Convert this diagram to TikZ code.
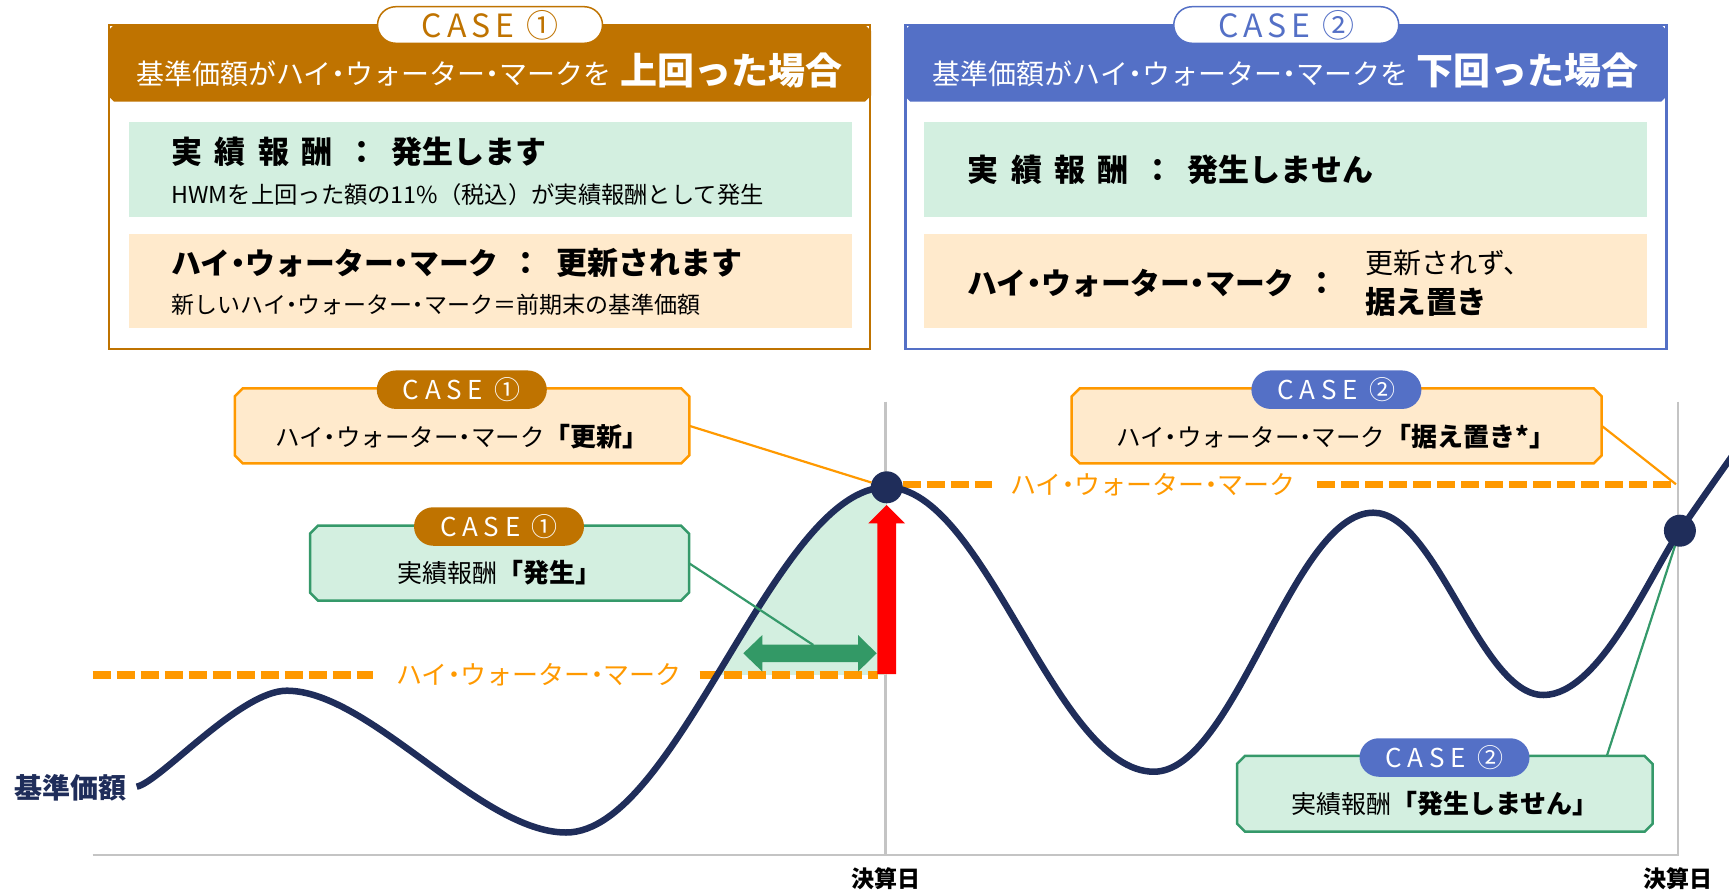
\documentclass[tikz,border=0pt]{standalone}
\usepackage{fontspec}
\setmainfont{Noto Sans CJK JP}
\newfontfamily\casefontA{Noto Sans CJK JP}[LetterSpace=15]
\newfontfamily\casefontB{Noto Sans CJK JP}[LetterSpace=22]
\usetikzlibrary{shapes.misc}
\definecolor{hbrown}{HTML}{BF7300}
\definecolor{hblue}{HTML}{5470C6}
\definecolor{navy}{HTML}{1F2D5A}
\definecolor{orng}{HTML}{FF9900}
\definecolor{ofill}{HTML}{FFEACC}
\definecolor{gfill}{HTML}{D3EFE0}
\definecolor{gline}{HTML}{35996A}
\definecolor{garrow}{HTML}{339966}
\definecolor{gridc}{HTML}{C4C4C4}
\newcommand\fsz[1]{\fontsize{#1}{#1}\selectfont}
% proportional (narrow) katakana middle dot
\newcommand\kd{{\addfontfeature{RawFeature=+palt}・}}
% chamfered outline around a named node: #1 node, #2 path options, #3 chamfer size
\newcommand\chamferbox[3]{%
  \path[#2] ([xshift=#3]#1.north west) -- ([xshift=-#3]#1.north east) -- ([yshift=-#3]#1.north east)
    -- ([yshift=#3]#1.south east) -- ([xshift=-#3]#1.south east) -- ([xshift=#3]#1.south west)
    -- ([yshift=#3]#1.south west) -- ([yshift=-#3]#1.north west) -- cycle;}
\begin{document}
\begin{tikzpicture}[x=1pt,y=-1pt,
  every node/.style={inner sep=0pt,outer sep=0pt},
  bigframe/.style={draw=#1,line width=2.5pt,fill=white,rectangle,minimum width=761pt,minimum height=324pt},
  hdrband/.style={rectangle,minimum width=763pt,minimum height=76.7pt},
  hdrpill/.style={rounded rectangle,draw=#1,line width=1.5pt,fill=white,text=#1,minimum width=225pt,minimum height=36.6pt,font={\casefontA\fsz{32pt}}},
  inbox/.style={rectangle,fill=#1,minimum width=723pt,minimum height=94.5pt},
  callbox/.style={rectangle},
  callpill/.style={rounded rectangle,fill=#1,text=white,minimum width=170pt,minimum height=38.5pt,font={\casefontB\fsz{26pt}}},
  hwmline/.style={draw=orng,line width=7.5pt,dash pattern=on 18pt off 6pt},
  hwmtext/.style={text=orng,font={\fsz{26pt}}},
  curveline/.style={draw=navy,line width=6.5pt},
  gridline/.style={draw=gridc,line width=2.5pt},
  dot/.style={circle,fill=navy,minimum size=32pt},
  olink/.style={draw=orng,line width=2.2pt},
  glink/.style={draw=gline,line width=2.2pt},
  obox/.style={draw=orng,fill=ofill,line width=2.5pt},
  gbox/.style={draw=gline,fill=gfill,line width=2.5pt}
]
\useasboundingbox (0,0) rectangle (1729,891);

% ===== top left panel =====
\node[bigframe=hbrown] (f1) at (489.5,187) {};
\node[hdrband] (hb1) at (489.5,63.3) {};
\chamferbox{hb1}{fill=hbrown}{6pt}
\node[hdrpill=hbrown] (hp1) at (490,25) {CASE ①};
\node[text=white] (t1) at (489.5,71) {\fsz{28pt}基準価額がハイ\kd ウォーター\kd マークを\hspace{9pt}\bfseries\fsz{37pt}上回った場合};
\node[inbox=gfill] (ig1) at (490.75,169.3) {};
\node[inbox=ofill] (io1) at (490.75,281) {};
\node[anchor=west] (g1m) at (171.5,151.7) {\bfseries\fsz{31pt}実\hspace{12.5pt}績\hspace{12.5pt}報\hspace{12.5pt}酬\hspace{13pt}：\hspace{15pt}発生します};
\node[anchor=west] (g1s) at (171.5,195) {\fsz{23.3pt}HWMを上回った額の11\%（税込）が実績報酬として発生};
\node[anchor=west] (o1m) at (171.5,263.3) {\bfseries\fsz{29.8pt}ハイ\kd ウォーター\kd マーク\hspace{12pt}\fsz{31pt}：\hspace{15pt}更新されます};
\node[anchor=west] (o1s) at (171.5,305) {\fsz{23pt}新しいハイ\kd ウォーター\kd マーク＝前期末の基準価額};

% ===== top right panel =====
\node[bigframe=hblue] (f2) at (1285.75,187) {};
\node[hdrband] (hb2) at (1285.75,63.3) {};
\chamferbox{hb2}{fill=hblue}{6pt}
\node[hdrpill=hblue] (hp2) at (1286.25,25) {CASE ②};
\node[text=white] (t2) at (1285.75,71) {\fsz{28pt}基準価額がハイ\kd ウォーター\kd マークを\hspace{9pt}\bfseries\fsz{37pt}下回った場合};
\node[inbox=gfill] (ig2) at (1285.25,169.3) {};
\node[inbox=ofill] (io2) at (1285.25,281) {};
\node[anchor=west] (g2m) at (967.5,170) {\bfseries\fsz{31pt}実\hspace{12.5pt}績\hspace{12.5pt}報\hspace{12.5pt}酬\hspace{13pt}：\hspace{15pt}発生しません};
\node[anchor=west] (o2m) at (967.5,283.3) {\bfseries\fsz{29.8pt}ハイ\kd ウォーター\kd マーク\hspace{12pt}\fsz{31pt}：};
\node[anchor=west] (o2a) at (1365,263.3) {\fsz{28pt}更新されず、};
\node[anchor=west] (o2b) at (1365,301.7) {\bfseries\fsz{30.6pt}据え置き};

% ===== chart axes =====
\draw[gridline] (885.7,401.7) -- (885.7,855);
\draw[gridline] (1678,401.7) -- (1678,855);
\coordinate (ax0) at (92.7,855);
\coordinate (ax1) at (1679,855);
\draw[gridline] (ax0) -- (ax1);
\node (k1) at (885.7,879) {\bfseries\fsz{23pt}決算日};
\node (k2) at (1678,879) {\bfseries\fsz{23pt}決算日};
\node[text=navy] (kj) at (70,787.7) {\bfseries\fsz{28pt}基準価額};

% ===== green area (excess over HWM) =====
\begin{scope}
  \clip (600,674.5) rectangle (886.7,470);
  \fill[gfill] (566,832.5) .. controls (678,832.5) and (774.5,487.3) .. (886.7,487.3) -- (886.7,840) -- cycle;
\end{scope}

% ===== HWM lines =====
\node[hwmtext] (h1) at (538.9,675) {ハイ\kd ウォーター\kd マーク};
\coordinate (h1a) at (92.7,675);
\coordinate (h1b) at (878.3,675);
\draw[hwmline] (h1a) -- ([xshift=-23pt]h1.west);
\draw[hwmline] ([xshift=18pt]h1.east) -- (h1b);
\node[hwmtext] (h2) at (1153.2,484.3) {ハイ\kd ウォーター\kd マーク};
\coordinate (h2a) at (902.7,484.3);
\coordinate (h2b) at (1676,484.3);
\draw[hwmline] (h2a) -- ([xshift=-18.5pt]h2.west);
\draw[hwmline] ([xshift=21.5pt]h2.east) -- (h2b);

% ===== price curve =====
\draw[curveline] (136.7,786.7) .. controls (160,782) and (240,690.7) .. (286.7,690.7)
  .. controls (370,690.7) and (480,832.5) .. (566,832.5)
  .. controls (678,832.5) and (774.5,487.3) .. (886.7,487.3)
  .. controls (985.5,487.3) and (1055,771.7) .. (1153.9,771.7)
  .. controls (1235,771.7) and (1292.3,512.7) .. (1373.3,512.7)
  .. controls (1436,512.7) and (1480,695) .. (1543.3,695)
  .. controls (1600,695) and (1650,574) .. (1679.9,530.7)
  .. controls (1700,501.7) and (1715,480) .. (1740,445);

% ===== arrows =====
\fill[red] (877.3,674) -- (877.3,523.3) -- (868.3,523.3) -- (886.7,505) -- (905,523.3) -- (896,523.3) -- (896,674) -- cycle;
\fill[garrow] (743.3,653.3) -- (762.3,635) -- (762.3,644.5) -- (858,644.5) -- (858,635) -- (876.7,653.3)
  -- (858,671.6) -- (858,662.1) -- (762.3,662.1) -- (762.3,671.6) -- cycle;
\coordinate (ga) at (813.3,645);

% ===== callouts =====
\node[callbox,minimum width=454.5pt,minimum height=75pt] (c1) at (462,425.8) {};
\chamferbox{c1}{obox}{8pt}
\node[callpill=hbrown] (p1) at (461.8,389.7) {CASE ①};
\node (c1t) at (462,436.7) {\fsz{24.5pt}ハイ\kd ウォーター\kd マーク\bfseries\fsz{26pt}「更新」};

\node[callbox,minimum width=379pt,minimum height=75pt] (c2) at (499.5,563.2) {};
\chamferbox{c2}{gbox}{8pt}
\node[callpill=hbrown] (p2) at (499,526.5) {CASE ①};
\node (c2t) at (499,573) {\fsz{25pt}実績報酬\bfseries\fsz{26pt}「発生」};

\node[callbox,minimum width=530pt,minimum height=75pt] (c3) at (1336.7,425.8) {};
\chamferbox{c3}{obox}{8pt}
\node[callpill=hblue] (p3) at (1336.4,389.7) {CASE ②};
\node (c3t) at (1335.8,436.7) {\fsz{24.5pt}ハイ\kd ウォーター\kd マーク\bfseries\fsz{26pt}「据え置き*」};

\node[callbox,minimum width=415.6pt,minimum height=75.7pt] (c4) at (1444.8,793.8) {};
\chamferbox{c4}{gbox}{8pt}
\node[callpill=hblue] (p4) at (1444.5,757.5) {CASE ②};
\node (c4t) at (1445,803.3) {\fsz{25pt}実績報酬\bfseries\fsz{26pt}「発生しません」};

% ===== dots =====
\node[dot] (d1) at (886.7,487.3) {};
\node[dot] (d2) at (1679.9,530.7) {};

% ===== connectors =====
\draw[olink] (c1.east) -- (d1);
\draw[glink] (c2.east) -- (ga);
\draw[olink] (c3.east) -- (h2b);
\draw[glink] ([xshift=162pt]c4.north) -- (d2);
\end{tikzpicture}
\end{document}
